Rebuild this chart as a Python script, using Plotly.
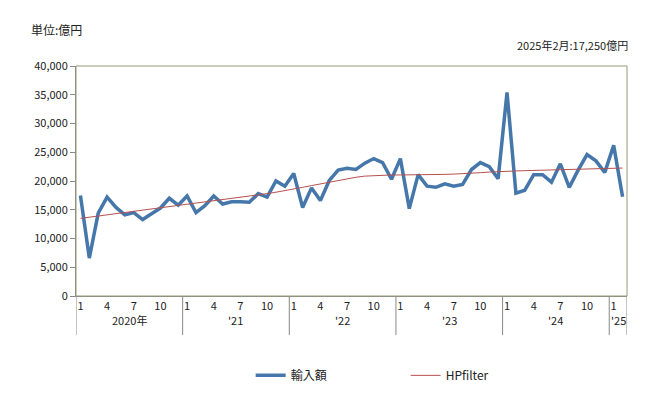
import plotly.graph_objects as go

years = ["2020年", "'21", "'22", "'23", "'24", "'25"]
months_per_year = [12, 12, 12, 12, 12, 2]
month_ticks = [1, 4, 7, 10]

import_values = [
    17500, 6600, 14400, 17200, 15400, 14100, 14500, 13300, 14300, 15300, 17000, 15800,
    17400, 14500, 15700, 17400, 16000, 16400, 16400, 16300, 17800, 17200, 20000, 19100,
    21300, 15400, 18800, 16600, 20100, 21900, 22200, 22000, 23100, 23900, 23200, 20300,
    23900, 15200, 21100, 19100, 18900, 19500, 19100, 19400, 22000, 23200, 22500, 20400,
    35400, 17900, 18400, 21100, 21100, 19800, 23000, 18900, 21900, 24600, 23500, 21500,
    26200, 17250,
]
hp_values = [
    13500, 13700, 13900, 14100, 14300, 14500, 14700, 14900, 15100, 15300, 15500, 15700,
    15900, 16100, 16300, 16500, 16700, 16900, 17100, 17300, 17550, 17800, 18050, 18300,
    18600, 18900, 19200, 19500, 19800, 20100, 20400, 20650, 20850, 20950, 21000, 21050,
    21050, 21050, 21050, 21050, 21100, 21150, 21200, 21250, 21350, 21450, 21550, 21650,
    21700, 21750, 21800, 21850, 21900, 21950, 22000, 22050, 22100, 22150, 22150, 22200,
    22200, 22250,
]
series_names = ["輸入額", "HPfilter"]
unit_label = "単位:億円"
latest_label = "2025年2月:17,250億円"

month_labels = []
for n in months_per_year:
    month_labels += list(range(1, n + 1))
idx = list(range(len(import_values)))

FONT = "Noto Sans CJK JP"
fig = go.Figure()
fig.add_trace(go.Scatter(x=idx, y=import_values, mode="lines", name=series_names[0],
                         line=dict(color="#4677aa", width=3.5)))
fig.add_trace(go.Scatter(x=idx, y=hp_values, mode="lines", name=series_names[1],
                         line=dict(color="#b5514f", width=1)))

tickvals = [i for i, m in enumerate(month_labels) if m in month_ticks]
ticktext = [str(month_labels[i]) for i in tickvals]

shapes = []
annotations = []
start = 0
bounds = [-0.5]
for y, n in zip(years, months_per_year):
    bounds.append(start + n - 0.5)
    annotations.append(dict(x=start + (n - 1) / 2, y=-0.105, xref="x", yref="paper",
                            text=y, showarrow=False, yanchor="middle",
                            font=dict(size=11, color="#222")))
    start += n
for b in bounds:
    shapes.append(dict(type="line", xref="x", yref="paper", x0=b, x1=b, y0=0, y1=-0.17,
                       line=dict(color="#888", width=1)))
shapes.append(dict(type="rect", xref="paper", yref="paper", x0=0, x1=1, y0=0, y1=1,
                   line=dict(color="#99997a", width=1)))

annotations.append(dict(x=-0.085, y=1.16, xref="paper", yref="paper", text=unit_label,
                        showarrow=False, xanchor="left", yanchor="middle",
                        font=dict(size=12, color="#222")))
annotations.append(dict(x=1.006, y=1.09, xref="paper", yref="paper", text=latest_label,
                        showarrow=False, xanchor="right", yanchor="middle",
                        font=dict(size=11, color="#222")))

fig.update_layout(
    width=655, height=388,
    margin=dict(l=68, r=36, t=58, b=100, autoexpand=False),
    paper_bgcolor="white", plot_bgcolor="white",
    font=dict(family=FONT, size=11, color="#222"),
    xaxis=dict(range=[-0.5, len(idx) - 0.5], tickvals=tickvals, ticktext=ticktext,
               showgrid=False, zeroline=False, showline=True, linecolor="#888",
               ticks="", tickfont=dict(size=11), automargin=False),
    yaxis=dict(range=[0, 40000], dtick=5000, tickformat=",", showgrid=False,
               zeroline=False, showline=True, linecolor="#888", ticks="outside",
               ticklen=5, tickcolor="#888", tickfont=dict(size=11), automargin=False),
    shapes=shapes, annotations=annotations,
    legend=dict(orientation="h", x=0.317, y=-0.345, xanchor="left", yanchor="middle",
                entrywidth=110, font=dict(size=12), itemwidth=30),
    showlegend=True,
)
fig.write_html("out.html")
